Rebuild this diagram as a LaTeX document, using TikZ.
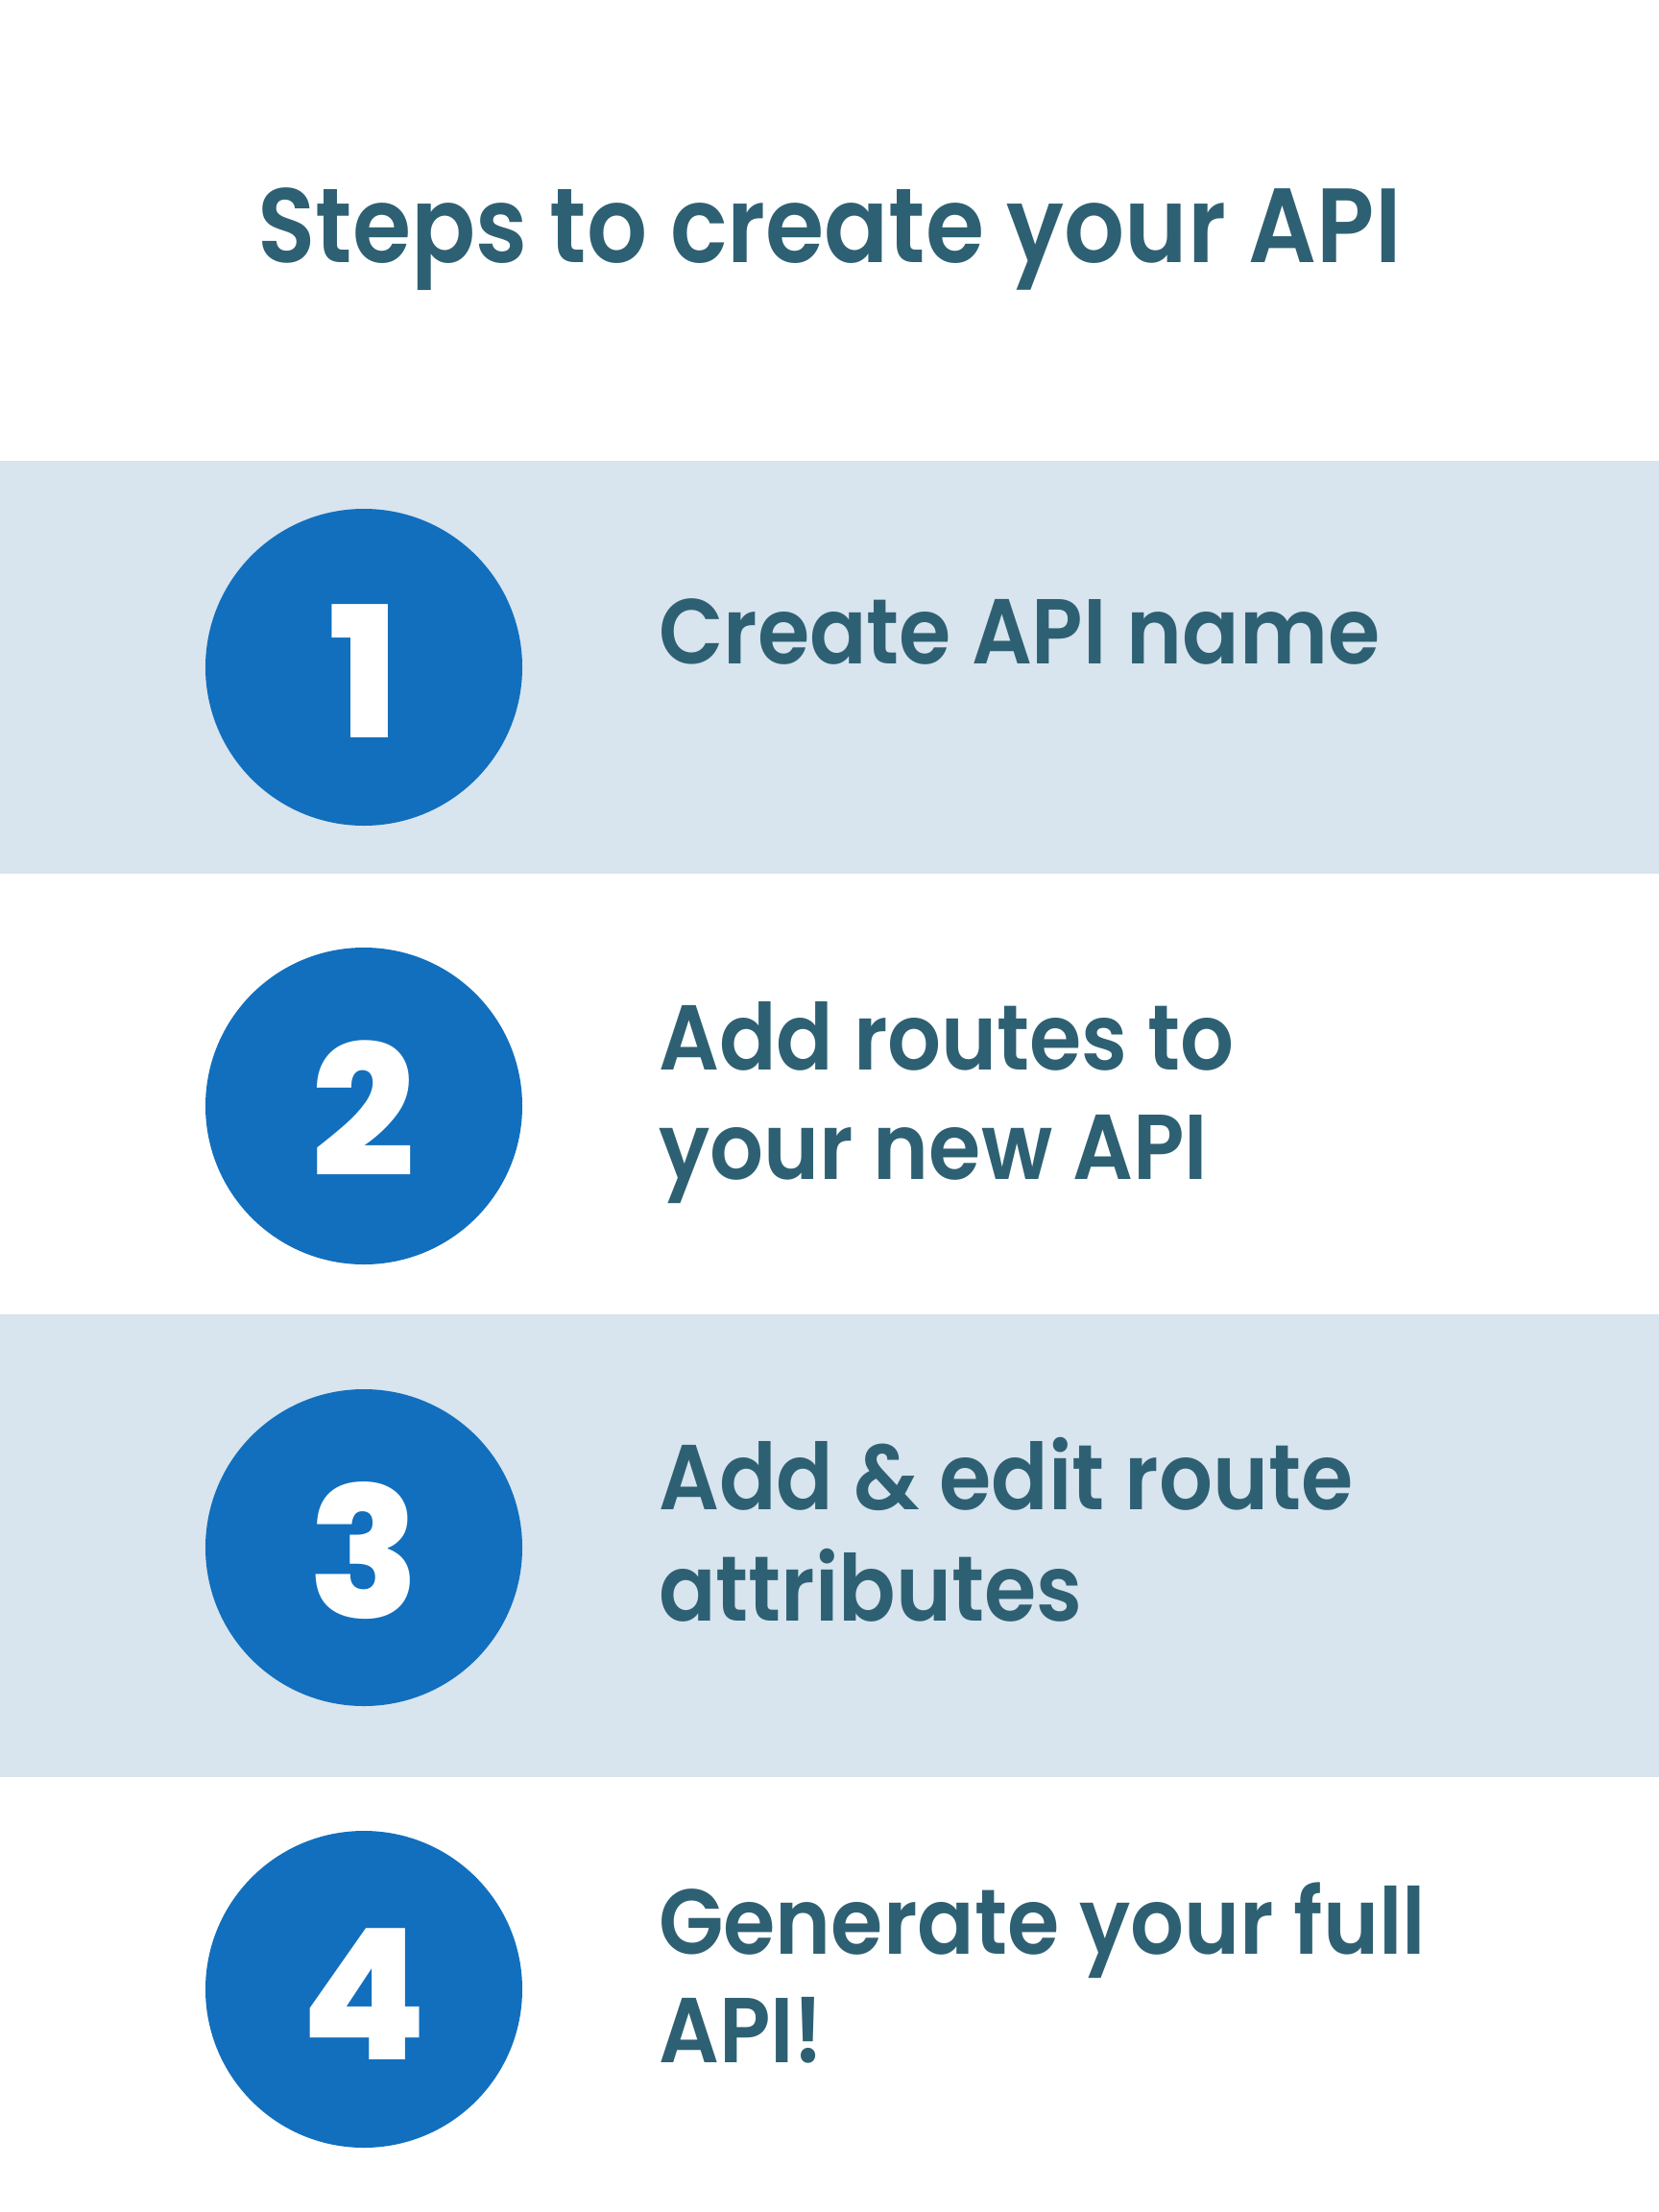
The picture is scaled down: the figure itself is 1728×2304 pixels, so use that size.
\documentclass[tikz,border=0pt]{standalone}
\usepackage{fontspec}
\usepackage{graphicx}
\setmainfont{Poppins}[BoldFont={Poppins SemiBold}]
\newfontfamily\digitfont{Poppins ExtraBold}
\definecolor{bandc}{HTML}{D8E4EE}
\definecolor{circc}{HTML}{116FBE}
\definecolor{textc}{HTML}{2E6073}
\newcommand{\stepsq}[1]{\scalebox{0.915}[1]{#1}}
\newcommand{\titlesq}[1]{\scalebox{0.9}[1]{#1}}
\tikzset{
  band/.style={fill=bandc, draw=none},
  numcirc/.style={circle, fill=circc, draw=none, minimum size=330pt, inner sep=0pt},
  digit/.style={anchor=base, text=white, font=\digitfont\fontsize{190}{190}\selectfont, inner sep=0pt},
  steptext/.style={anchor=base west, text=textc, font=\bfseries\fontsize{96}{115}\selectfont, inner sep=0pt},
  titletext/.style={anchor=base, text=textc, font=\bfseries\fontsize{110}{120}\selectfont, inner sep=0pt}
}
\begin{document}
\begin{tikzpicture}[x=1pt,y=-1pt]
\useasboundingbox (0,0) rectangle (1728,2304);
\fill[white] (0,0) rectangle (1728,2304);
\path[band] (0,480) rectangle (1728,910);
\path[band] (0,1369) rectangle (1728,1851);
\node[titletext] (title) at (864,273) {\titlesq{Steps to create your API}};
\node[numcirc] (c1) at (379,695) {};
\node[numcirc] (c2) at (379,1152) {};
\node[numcirc] (c3) at (379,1612) {};
\node[numcirc] (c4) at (379,2072) {};
\node[digit] (d1) at (379,768) {1};
\node[digit] (d2) at (379,1225) {2};
\node[digit] (d3) at (379,1685) {3};
\node[digit] (d4) at (379,2145) {4};
\node[steptext] (s1) at (686,691) {\stepsq{Create API name}};
\node[steptext] (s2a) at (686,1114) {\stepsq{Add routes to}};
\node[steptext] (s2b) at (686,1228) {\stepsq{your new API}};
\node[steptext] (s3a) at (686,1572) {\stepsq{Add \& edit route}};
\node[steptext] (s3b) at (686,1688) {\stepsq{attributes}};
\node[steptext] (s4a) at (686,2035) {\stepsq{Generate your full}};
\node[steptext] (s4b) at (686,2148) {\stepsq{API!}};
\end{tikzpicture}
\end{document}
